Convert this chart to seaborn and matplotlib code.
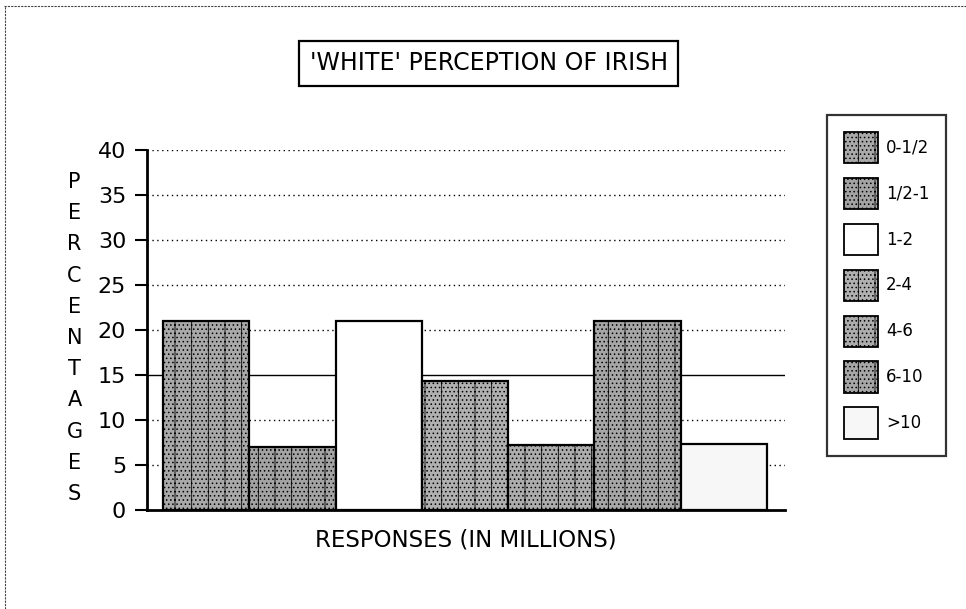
import pandas as pd
import seaborn as sns
import matplotlib.pyplot as plt
from matplotlib.patches import Patch
from matplotlib.lines import Line2D

# values
categories = ["0-1/2", "1/2-1", "1-2", "2-4", "4-6", "6-10", ">10"]
percentages = [21, 7, 21, 14.3, 7.2, 21, 7.3]
fills = ["#a9a9a9", "#a3a3a3", "white", "#b0b0b0", "#acacac", "#a6a6a6", "#f7f7f7"]
hatches = ["|....", "|....", "", "|....", "|....", "|....", ""]

df = pd.DataFrame({"range": categories, "pct": percentages})

sns.set_style("white")
plt.rcParams["font.family"] = ["DejaVu Sans"]
plt.rcParams["hatch.linewidth"] = 0.6
plt.rcParams["text.color"] = "black"
plt.rcParams["axes.labelcolor"] = "black"
plt.rcParams["ytick.color"] = "black"

fig = plt.figure(figsize=(9.66, 6.09), dpi=100)
ax = fig.add_axes([0.1522, 0.1626, 0.6605, 0.5911])

sns.barplot(data=df, x="range", y="pct", hue="range", palette=dict(zip(categories, fills)),
            width=1.0, edgecolor="black", linewidth=1.6, legend=False, ax=ax, zorder=3)
for cont, h in zip(ax.containers, hatches):
    for bar in cont:
        bar.set_hatch(h)

ax.set_xlim(-0.685, 6.709)
ax.set_ylim(0, 40)
ax.set_yticks(range(0, 41, 5))
ax.tick_params(axis="y", labelsize=16, length=9, width=1.5, direction="out", left=True, pad=6)
ax.set_xticks([])
for y in range(5, 41, 5):
    ls = "-" if y == 15 else (0, (1, 2.5))
    ax.axhline(y, color="black", linestyle=ls, linewidth=1.0, zorder=1)

sns.despine(ax=ax)
ax.spines["left"].set_linewidth(2)
ax.spines["bottom"].set_linewidth(2)
ax.spines["left"].set_color("black")
ax.spines["bottom"].set_color("black")

ax.set_xlabel("RESPONSES (IN MILLIONS)", fontsize=16.5, labelpad=13)
ax.set_ylabel("\n".join("PERCENTAGES"), fontsize=15, rotation=0, linespacing=1.7,
              va="center", ha="center")
ax.yaxis.set_label_coords(-0.1137, 0.478)

# boxed title
fig.text(0.506, 0.896, "'WHITE' PERCEPTION OF IRISH", fontsize=17, ha="center", va="center",
         bbox=dict(boxstyle="square,pad=0.45", facecolor="white", edgecolor="black", linewidth=1.6))

handles = [Patch(facecolor=f, edgecolor="black", hatch=h, linewidth=1.3) for f, h in zip(fills, hatches)]
fig.legend(handles, categories, loc="upper left", bbox_to_anchor=(0.856, 0.811),
           borderaxespad=0, fontsize=12, handlelength=2.04, handleheight=2.54,
           labelspacing=0.86, frameon=True, fancybox=False, edgecolor="black",
           borderpad=1.0, handletextpad=0.5)
fig.legends[0].get_frame().set_linewidth(1.6)

# page edges of the scan
fig.add_artist(Line2D([0.004, 1], [0.99, 0.99], color="#444444", linewidth=0.8, linestyle=(0, (2, 1))))
fig.add_artist(Line2D([0.005, 0.005], [0, 0.99], color="#444444", linewidth=0.8, linestyle=(0, (2, 1))))

plt.savefig("out.png", dpi=100)
